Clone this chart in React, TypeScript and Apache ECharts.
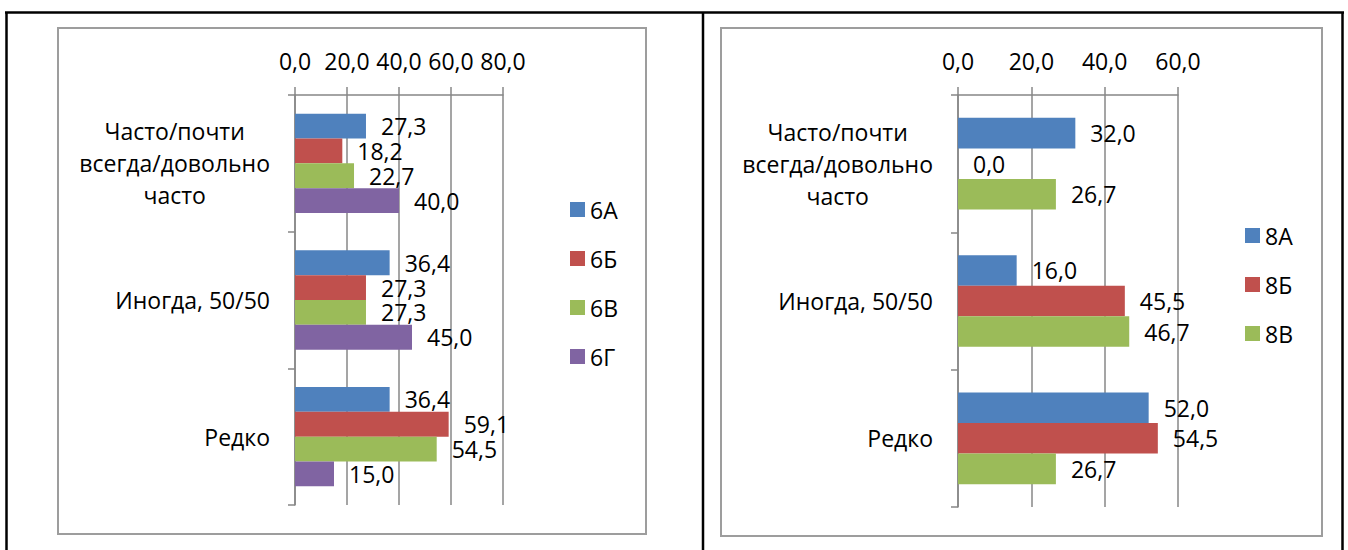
import React, { useEffect, useRef } from 'react';
import * as echarts from 'echarts';

const categories = ['Часто/почти\nвсегда/довольно\nчасто', 'Иногда, 50/50', 'Редко'];

const leftNames = ['6А', '6Б', '6В', '6Г'];
const s6A = [27.3, 36.4, 36.4];
const s6B = [18.2, 27.3, 59.1];
const s6V = [22.7, 27.3, 54.5];
const s6G = [40.0, 45.0, 15.0];

const rightNames = ['8А', '8Б', '8В'];
const s8A = [32.0, 16.0, 52.0];
const s8B = [0.0, 45.5, 54.5];
const s8V = [26.7, 46.7, 26.7];

const leftAxisMax = 80;
const rightAxisMax = 60;
const axisInterval = 20;

const COLORS = ['#4F81BD', '#C0504D', '#9BBB59', '#8064A2'];
const FONT = '"Open Sans", "Noto Sans", sans-serif';
const GRAY = '#878787';

const fmt = (v: number) => Number(v).toFixed(1).replace('.', ',');

export default function App() {
  const ref = useRef<HTMLDivElement>(null);
  useEffect(() => {
    if (!ref.current) return;
    const chart = echarts.init(ref.current, undefined, { renderer: 'svg' });

    const xAxisCommon = (gridIndex: number, max: number) => ({
      type: 'value',
      gridIndex,
      position: 'top',
      min: 0,
      max,
      interval: axisInterval,
      axisLine: { show: true, lineStyle: { color: GRAY, width: 1.5 } },
      axisTick: { show: true, length: 8, inside: false, lineStyle: { color: GRAY, width: 1.5 } },
      splitLine: { show: true, lineStyle: { color: GRAY, width: 1.5 } },
      axisLabel: {
        show: true,
        margin: 23,
        color: '#000',
        fontSize: 23,
        fontFamily: FONT,
        hideOverlap: false,
        formatter: (v: number) => fmt(v),
      },
    });

    const yAxisCommon = (gridIndex: number) => ({
      type: 'category',
      gridIndex,
      inverse: true,
      data: categories,
      axisLine: { show: true, lineStyle: { color: GRAY, width: 1.5 } },
      axisTick: { show: true, length: 7, lineStyle: { color: GRAY, width: 1.5 } },
      splitLine: { show: false },
      axisLabel: {
        show: true,
        margin: 25,
        color: '#000',
        fontFamily: FONT,
        fontSize: 23,
        formatter: (v: string) => v.split('\n').map((l) => `{c|${l}}`).join('\n'),
        rich: {
          c: { align: 'center', fontSize: 23, lineHeight: 32, fontFamily: FONT, color: '#000' },
        },
      },
    });

    const mkSeries = (name: string, data: number[], idx: number, color: string, gap: string) => ({
      type: 'bar',
      name,
      data,
      xAxisIndex: idx,
      yAxisIndex: idx,
      barCategoryGap: gap,
      barGap: '0%',
      itemStyle: { color },
      label: {
        show: true,
        position: 'right',
        distance: 15,
        color: '#000',
        fontSize: 23,
        fontFamily: FONT,
        formatter: (p: any) => fmt(p.value),
      },
    });

    const legendText = { color: '#000', fontSize: 23, fontFamily: FONT, lineHeight: 22 };

    const option: any = {
      animation: false,
      backgroundColor: '#fff',
      grid: [
        { left: 295, top: 95, width: 208, height: 410, containLabel: false, outerBoundsMode: 'none' },
        { left: 958, top: 95, width: 220, height: 412, containLabel: false, outerBoundsMode: 'none' },
      ],
      xAxis: [xAxisCommon(0, leftAxisMax), xAxisCommon(1, rightAxisMax)],
      yAxis: [yAxisCommon(0), yAxisCommon(1)],
      legend: [
        {
          data: leftNames,
          orient: 'vertical',
          left: 565,
          top: 193,
          padding: 5,
          itemWidth: 15,
          itemHeight: 15,
          itemGap: 26,
          icon: 'rect',
          textStyle: legendText,
        },
        {
          data: rightNames,
          orient: 'vertical',
          left: 1240,
          top: 219,
          padding: 5,
          itemWidth: 15,
          itemHeight: 15,
          itemGap: 26,
          icon: 'rect',
          textStyle: legendText,
        },
      ],
      series: [
        mkSeries(leftNames[0], s6A, 0, COLORS[0], '27.3%'),
        mkSeries(leftNames[1], s6B, 0, COLORS[1], '27.3%'),
        mkSeries(leftNames[2], s6V, 0, COLORS[2], '27.3%'),
        mkSeries(leftNames[3], s6G, 0, COLORS[3], '27.3%'),
        mkSeries(rightNames[0], s8A, 1, COLORS[0], '33.3%'),
        mkSeries(rightNames[1], s8B, 1, COLORS[1], '33.3%'),
        mkSeries(rightNames[2], s8V, 1, COLORS[2], '33.3%'),
      ],
      graphic: [
        { type: 'rect', shape: { x: 58, y: 28, width: 588, height: 506 }, style: { fill: 'none', stroke: '#9d9d9d', lineWidth: 2 }, silent: true },
        { type: 'rect', shape: { x: 721, y: 28, width: 601, height: 508 }, style: { fill: 'none', stroke: '#9d9d9d', lineWidth: 2 }, silent: true },
        { type: 'line', shape: { x1: 5, y1: 12.5, x2: 1344, y2: 12.5 }, style: { stroke: '#000', lineWidth: 2.5 }, silent: true },
        { type: 'line', shape: { x1: 6.5, y1: 12, x2: 6.5, y2: 550 }, style: { stroke: '#000', lineWidth: 2.5 }, silent: true },
        { type: 'line', shape: { x1: 703, y1: 12, x2: 703, y2: 550 }, style: { stroke: '#000', lineWidth: 2.5 }, silent: true },
        { type: 'line', shape: { x1: 1342.5, y1: 12, x2: 1342.5, y2: 550 }, style: { stroke: '#000', lineWidth: 2.5 }, silent: true },
      ],
    };

    chart.setOption(option);
    return () => chart.dispose();
  }, []);

  return (
    <div
      ref={ref}
      style={{ position: 'absolute', left: 0, top: 0, width: 1348, height: 550, background: '#fff' }}
    />
  );
}
